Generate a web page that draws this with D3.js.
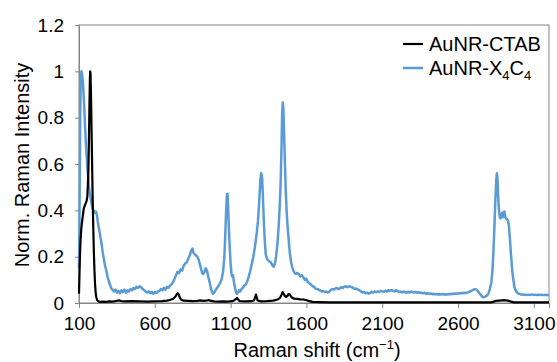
<!DOCTYPE html>
<html>
<head>
<meta charset="utf-8">
<script src="https://cdn.jsdelivr.net/npm/d3@7"></script>
<style>
  html, body { margin: 0; padding: 0; background: #fff; }
  svg { display: block; }
  text { font-family: "Liberation Sans", Arial, sans-serif; fill: #000; }
</style>
</head>
<body>
<svg id="chart" width="557" height="362"></svg>
<script>
// ---- data ----
const xTicks = [100, 600, 1100, 1600, 2100, 2600, 3100];
const yTicks = [0, 0.2, 0.4, 0.6, 0.8, 1, 1.2];
const seriesNames = ["AuNR-CTAB", "AuNR-X4C4"];

const ctabShift = [100,103,106,110,115,120,126,132,138,144,150,155,159,163,166,169,172,174,176,179,182,186,190,194,198,202,206,210,214,220,228,240,260,280,300,320,340,360,370,380,400,450,500,550,600,650,680,700,720,735,745,752,758,766,775,790,820,850,880,900,920,940,955,965,990,1020,1050,1080,1110,1125,1135,1142,1150,1160,1200,1240,1255,1262,1267,1272,1278,1300,1340,1380,1410,1425,1435,1443,1450,1458,1466,1474,1482,1490,1498,1508,1520,1540,1560,1580,1600,1620,1640,1680,1750,2000,2500,2820,2835,2850,2870,2890,2910,2930,2950,2970,3200];
const ctabInt = [0.04,0.12,0.2,0.27,0.32,0.35,0.38,0.41,0.42,0.43,0.44,0.46,0.52,0.6,0.72,0.86,0.97,1.0,0.99,0.9,0.78,0.62,0.46,0.33,0.22,0.14,0.08,0.045,0.025,0.012,0.007,0.005,0.006,0.005,0.007,0.006,0.008,0.011,0.01,0.008,0.007,0.008,0.007,0.006,0.007,0.008,0.01,0.013,0.018,0.027,0.038,0.042,0.036,0.022,0.014,0.01,0.009,0.008,0.009,0.011,0.009,0.01,0.013,0.01,0.007,0.006,0.007,0.006,0.008,0.012,0.018,0.022,0.015,0.008,0.007,0.008,0.012,0.025,0.036,0.025,0.011,0.007,0.008,0.01,0.015,0.022,0.035,0.047,0.04,0.03,0.026,0.03,0.038,0.037,0.028,0.022,0.019,0.018,0.016,0.015,0.012,0.008,0.005,0.004,0.003,0.003,0.003,0.003,0.006,0.009,0.01,0.011,0.012,0.01,0.006,0.003,0.003];

const x4c4Shift = [100,104,108,112,116,120,126,132,140,148,156,164,172,180,188,196,204,212,218,224,232,240,248,256,264,272,280,288,296,304,312,320,330,340,350,360,370,380,390,400,410,420,430,440,450,460,470,480,490,500,510,520,530,540,550,560,570,580,590,600,610,620,630,640,650,660,670,680,690,700,710,720,730,740,750,760,770,780,790,800,810,820,830,840,848,856,864,872,880,888,896,904,912,920,928,936,944,952,960,968,976,984,992,1000,1010,1020,1030,1040,1050,1058,1064,1070,1076,1080,1084,1088,1094,1100,1106,1110,1116,1122,1128,1134,1140,1148,1156,1164,1172,1180,1190,1200,1210,1220,1230,1240,1250,1260,1270,1280,1288,1296,1302,1308,1314,1320,1326,1332,1338,1346,1354,1362,1370,1378,1384,1392,1400,1408,1416,1424,1430,1436,1440,1444,1448,1452,1458,1464,1470,1476,1482,1490,1498,1506,1514,1522,1530,1540,1550,1560,1570,1580,1590,1600,1610,1620,1630,1640,1650,1660,1670,1680,1690,1700,1710,1720,1730,1740,1750,1760,1770,1780,1790,1800,1810,1820,1830,1840,1850,1860,1870,1880,1890,1900,1910,1920,1930,1940,1950,1960,1970,1980,1990,2000,2010,2020,2030,2040,2050,2060,2070,2080,2090,2100,2110,2120,2130,2140,2150,2160,2170,2180,2190,2200,2210,2220,2230,2240,2250,2260,2270,2280,2290,2300,2310,2320,2330,2340,2350,2360,2370,2380,2390,2400,2410,2420,2430,2440,2450,2460,2470,2480,2490,2500,2510,2520,2530,2540,2550,2560,2570,2580,2590,2600,2610,2620,2630,2640,2650,2660,2670,2680,2690,2700,2710,2720,2730,2740,2750,2760,2770,2780,2790,2800,2810,2820,2828,2834,2840,2846,2852,2856,2860,2864,2868,2872,2876,2880,2886,2892,2896,2900,2906,2912,2918,2924,2930,2936,2942,2948,2954,2960,2966,2972,2978,2986,2994,3002,3010,3020,3030,3040,3050,3060,3070,3080,3090,3100,3110,3120,3130,3140,3150,3160,3170,3180,3190,3200];
const x4c4Int = [0.15,0.45,0.8,0.97,1.0,0.99,0.95,0.88,0.76,0.66,0.58,0.51,0.47,0.44,0.41,0.4,0.39,0.395,0.38,0.35,0.32,0.29,0.26,0.22,0.19,0.16,0.14,0.115,0.095,0.08,0.065,0.058,0.05,0.058,0.045,0.052,0.042,0.055,0.047,0.058,0.045,0.055,0.05,0.06,0.055,0.065,0.06,0.07,0.065,0.072,0.068,0.06,0.055,0.05,0.045,0.05,0.042,0.048,0.04,0.047,0.043,0.05,0.052,0.06,0.055,0.065,0.058,0.07,0.065,0.075,0.08,0.09,0.105,0.12,0.135,0.13,0.145,0.14,0.16,0.17,0.175,0.19,0.205,0.225,0.235,0.215,0.21,0.205,0.2,0.19,0.17,0.15,0.13,0.125,0.135,0.15,0.14,0.115,0.095,0.07,0.05,0.04,0.045,0.055,0.065,0.075,0.085,0.1,0.135,0.19,0.28,0.39,0.47,0.47,0.41,0.33,0.24,0.17,0.125,0.115,0.12,0.09,0.07,0.05,0.04,0.045,0.055,0.05,0.06,0.065,0.075,0.08,0.095,0.115,0.14,0.17,0.2,0.24,0.29,0.35,0.43,0.53,0.56,0.54,0.44,0.34,0.26,0.21,0.195,0.185,0.18,0.178,0.17,0.16,0.157,0.17,0.2,0.25,0.32,0.42,0.52,0.68,0.82,0.865,0.84,0.75,0.61,0.48,0.39,0.33,0.28,0.22,0.18,0.155,0.14,0.13,0.125,0.13,0.125,0.115,0.12,0.11,0.1,0.105,0.09,0.085,0.08,0.072,0.07,0.062,0.06,0.058,0.055,0.05,0.052,0.047,0.05,0.045,0.048,0.055,0.06,0.058,0.062,0.065,0.06,0.063,0.068,0.065,0.07,0.072,0.068,0.072,0.07,0.068,0.065,0.06,0.062,0.058,0.055,0.05,0.045,0.048,0.042,0.045,0.04,0.043,0.048,0.045,0.05,0.047,0.05,0.048,0.052,0.05,0.048,0.053,0.05,0.055,0.052,0.056,0.053,0.05,0.055,0.052,0.048,0.05,0.045,0.05,0.047,0.044,0.048,0.045,0.05,0.047,0.045,0.048,0.044,0.047,0.043,0.045,0.042,0.044,0.04,0.042,0.039,0.041,0.038,0.04,0.037,0.039,0.036,0.038,0.037,0.039,0.036,0.038,0.037,0.039,0.038,0.04,0.039,0.041,0.04,0.042,0.041,0.043,0.042,0.044,0.043,0.045,0.047,0.05,0.053,0.057,0.06,0.058,0.052,0.043,0.035,0.027,0.025,0.028,0.032,0.04,0.06,0.09,0.15,0.23,0.33,0.44,0.53,0.56,0.54,0.47,0.42,0.39,0.37,0.365,0.38,0.39,0.37,0.385,0.395,0.37,0.365,0.36,0.355,0.33,0.28,0.22,0.17,0.125,0.095,0.07,0.058,0.048,0.042,0.04,0.038,0.036,0.037,0.035,0.036,0.034,0.036,0.035,0.037,0.035,0.036,0.034,0.036,0.035,0.036,0.034,0.035,0.036,0.035,0.035];

// ---- layout ----
const svg = d3.select("#chart");
const margin = {left: 79, top: 25, right: 8, bottom: 59};
const W = 557, H = 362;
const x = d3.scaleLinear().domain([100, 3200]).range([margin.left, W - margin.right]);
const y = d3.scaleLinear().domain([0, 1.2]).range([H - margin.bottom, margin.top]);
const axisColor = "#868686";

// plot border
svg.append("rect")
  .attr("x", x(100)).attr("y", y(1.2))
  .attr("width", x(3200) - x(100)).attr("height", y(0) - y(1.2))
  .attr("fill", "none").attr("stroke", axisColor).attr("stroke-width", 1);

// axes
const gx = svg.append("g").attr("transform", `translate(0,${y(0)})`)
  .call(d3.axisBottom(x).tickValues(xTicks).tickSize(5).tickPadding(9).tickFormat(d3.format("d")));
const gy = svg.append("g").attr("transform", `translate(${x(100)},0)`)
  .call(d3.axisLeft(y).tickValues(yTicks).tickSize(4).tickPadding(11).tickFormat(d => String(d)));
[gx, gy].forEach(g => {
  g.select(".domain").attr("stroke", axisColor);
  g.selectAll(".tick line").attr("stroke", axisColor);
  g.selectAll(".tick text").style("font-size", "19px").style("font-family", "'Liberation Sans', Arial, sans-serif").attr("fill", "#000");
});

// lines
const line = d3.line().x(d => x(d[0])).y(d => y(d[1]));
const ctab = ctabShift.map((s, i) => [s, ctabInt[i]]);
const x4c4 = x4c4Shift.map((s, i) => [s, x4c4Int[i]]);

svg.append("path").datum(x4c4).attr("d", line)
  .attr("fill", "none").attr("stroke", "#5B9BD5").attr("stroke-width", 2.5).attr("stroke-linejoin", "round");
svg.append("path").datum(ctab).attr("d", line)
  .attr("fill", "none").attr("stroke", "#000").attr("stroke-width", 2.2).attr("stroke-linejoin", "round");

// axis titles
const xt = svg.append("text").attr("x", (x(100) + x(3200)) / 2 + 3).attr("y", 357)
  .attr("text-anchor", "middle").style("font-size", "20px");
xt.append("tspan").text("Raman shift (cm");
xt.append("tspan").text("\u22121").style("font-size", "13px").attr("dy", -8);
xt.append("tspan").text(")").attr("dy", 8);

svg.append("text").attr("transform", `translate(29,${(y(0) + y(1.2)) / 2 + 1}) rotate(-90)`)
  .attr("text-anchor", "middle").style("font-size", "20px").text("Norm. Raman Intensity");

// legend
const lg = svg.append("g");
lg.append("line").attr("x1", 403).attr("x2", 423).attr("y1", 44).attr("y2", 44)
  .attr("stroke", "#000").attr("stroke-width", 2.2);
lg.append("text").attr("x", 429).attr("y", 51).style("font-size", "20px").text(seriesNames[0]);
lg.append("line").attr("x1", 403).attr("x2", 423).attr("y1", 68).attr("y2", 68)
  .attr("stroke", "#5B9BD5").attr("stroke-width", 2.5);
const t2 = lg.append("text").attr("x", 429).attr("y", 75).style("font-size", "20px");
t2.append("tspan").text("AuNR-X");
t2.append("tspan").text("4").style("font-size", "13px").attr("dy", 5);
t2.append("tspan").text("C").attr("dy", -5);
t2.append("tspan").text("4").style("font-size", "13px").attr("dy", 5);
</script>
</body>
</html>
